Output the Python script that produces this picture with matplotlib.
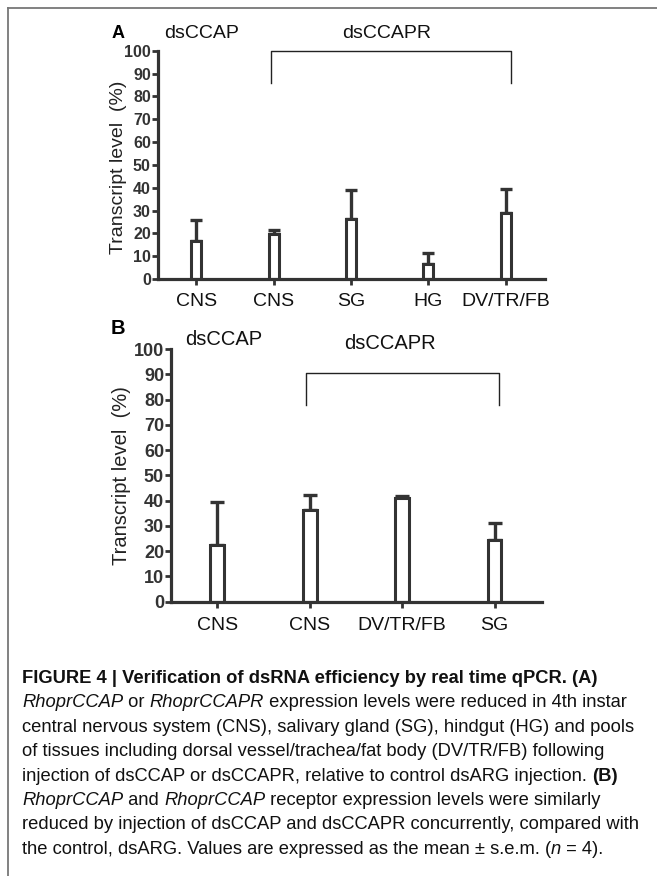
import numpy as np
import matplotlib
matplotlib.use("Agg")
import matplotlib.pyplot as plt
from matplotlib import font_manager
from matplotlib.lines import Line2D

# panel A
cats_a = ["CNS", "CNS", "SG", "HG", "DV/TR/FB"]
mean_a = [16.8, 19.6, 26.1, 6.7, 29.0]
sem_a = [8.9, 1.7, 12.9, 4.7, 10.3]

# panel B
cats_b = ["CNS", "CNS", "DV/TR/FB", "SG"]
mean_b = [22.6, 36.4, 41.2, 24.6]
sem_b = [16.9, 5.8, 0.5, 6.7]

yticks = list(range(0, 101, 10))

W, H = 657, 876
DARK = "#333333"
names = {f.name for f in font_manager.fontManager.ttflist}
SANS = "Liberation Sans" if "Liberation Sans" in names else "DejaVu Sans"
CAP = "Liberation Sans Narrow" if "Liberation Sans Narrow" in names else SANS
plt.rcParams["font.family"] = [SANS, "DejaVu Sans"]

fig = plt.figure(figsize=(W / 100, H / 100), dpi=100)


def box(l, t, r, b):
    return [l / W, 1 - b / H, (r - l) / W, (b - t) / H]


def panel(rect, cats, means, sems, bw, cap, tfs, xfs, lfs, xpad):
    ax = fig.add_axes(rect)
    x = np.arange(len(cats))
    ax.errorbar(x, means, yerr=[np.zeros(len(sems)), sems], fmt="none",
                ecolor=DARK, elinewidth=2.4, capsize=cap, capthick=2.4, zorder=1)
    ax.bar(x, means, width=bw, color="white", edgecolor=DARK, linewidth=2.2, zorder=2)
    ax.set_ylim(0, 100)
    ax.set_xlim(-0.5, len(cats) - 0.49)
    ax.set_yticks(yticks)
    ax.set_yticklabels([str(v) for v in yticks], fontsize=tfs, fontweight="bold", color=DARK)
    ax.set_xticks(x)
    ax.set_xticklabels(cats, fontsize=xfs, color="#111111")
    ax.tick_params(axis="y", length=4, width=2, color=DARK, pad=1)
    ax.tick_params(axis="x", length=4.5, width=2, color=DARK, pad=xpad)
    for s in ["top", "right"]:
        ax.spines[s].set_visible(False)
    for s in ["left", "bottom"]:
        ax.spines[s].set_linewidth(2.3)
        ax.spines[s].set_color(DARK)
    ax.set_ylabel("Transcript level  (%)", fontsize=lfs, color="#222222")
    ax.patch.set_alpha(0)
    return ax


def bracket(ax, i0, i1, y_top, y_bot, d0, d1):
    xs = [i0 + d0, i0 + d0, i1 + d1, i1 + d1]
    ys = [y_bot, y_top, y_top, y_bot]
    ax.plot(xs, ys, color="#222222", linewidth=1.0, clip_on=False)


axA = panel(box(157.7, 50.7, 545, 279), cats_a, mean_a, sem_a, 0.13, 4.3, 11.5, 14, 14, 5.5)
bracket(axA, 1, 4, 100, 86, -0.04, 0.07)
axA.yaxis.set_label_coords(-0.079, 0.49)

axB = panel(box(171, 349, 541.7, 601.7), cats_b, mean_b, sem_b, 0.15, 5, 13, 14, 14.5, 6.5)
bracket(axB, 1, 3, 90.4, 78, -0.04, 0.05)
axB.yaxis.set_label_coords(-0.108, 0.5)

# panel letters and group labels
fig.text(118 / W, 1 - 34 / H, "A", fontsize=13, fontweight="bold", ha="center", va="center")
fig.text(201.7 / W, 1 - 34 / H, "dsCCAP", fontsize=14, ha="center", va="center", color="#111111")
fig.text(386.7 / W, 1 - 34 / H, "dsCCAPR", fontsize=14, ha="center", va="center", color="#111111")
fig.text(118.3 / W, 1 - 328 / H, "B", fontsize=14.5, fontweight="bold", ha="center", va="center")
fig.text(223.3 / W, 1 - 340 / H, "dsCCAP", fontsize=14.5, ha="center", va="center", color="#111111")
fig.text(390 / W, 1 - 343.3 / H, "dsCCAPR", fontsize=14.5, ha="center", va="center", color="#111111")

# frame lines
fig.add_artist(Line2D([8 / W, 8 / W], [0, 1 - 8 / H], color="#777777", linewidth=1.3))
fig.add_artist(Line2D([8 / W, 1], [1 - 8 / H, 1 - 8 / H], color="#777777", linewidth=1.3))

# caption
caption = [
    [("FIGURE 4 | Verification of dsRNA efficiency by real time qPCR. (A)", "bold")],
    [("RhoprCCAP", "italic"), (" or ", "normal"), ("RhoprCCAPR", "italic"),
     (" expression levels were reduced in 4th instar", "normal")],
    [("central nervous system (CNS), salivary gland (SG), hindgut (HG) and pools", "normal")],
    [("of tissues including dorsal vessel/trachea/fat body (DV/TR/FB) following", "normal")],
    [("injection of dsCCAP or dsCCAPR, relative to control dsARG injection. ", "normal"),
     ("(B)", "bold")],
    [("RhoprCCAP", "italic"), (" and ", "normal"), ("RhoprCCAP", "italic"),
     (" receptor expression levels were similarly", "normal")],
    [("reduced by injection of dsCCAP and dsCCAPR concurrently, compared with", "normal")],
    [("the control, dsARG. Values are expressed as the mean \u00b1 s.e.m. (", "normal"),
     ("n", "italic"), (" = 4).", "normal")],
]

renderer = fig.canvas.get_renderer()
probe = fig.text(0, 0, caption[2][0][0], fontsize=10, family=CAP)
pw = probe.get_window_extent(renderer).width
probe.remove()
cfs = 10 * 615 / pw

y0 = 683
for k, line in enumerate(caption):
    xpix = 22
    ypix = y0 + k * 24.4
    for txt, sty in line:
        kw = dict(fontsize=cfs, family=CAP, color="#111111", va="baseline", ha="left")
        if sty == "bold":
            kw["fontweight"] = "bold"
        elif sty == "italic":
            kw["fontstyle"] = "italic"
        t = fig.text(xpix / W, 1 - ypix / H, txt, **kw)
        xpix += t.get_window_extent(renderer).width

fig.savefig("out.png", dpi=100)
